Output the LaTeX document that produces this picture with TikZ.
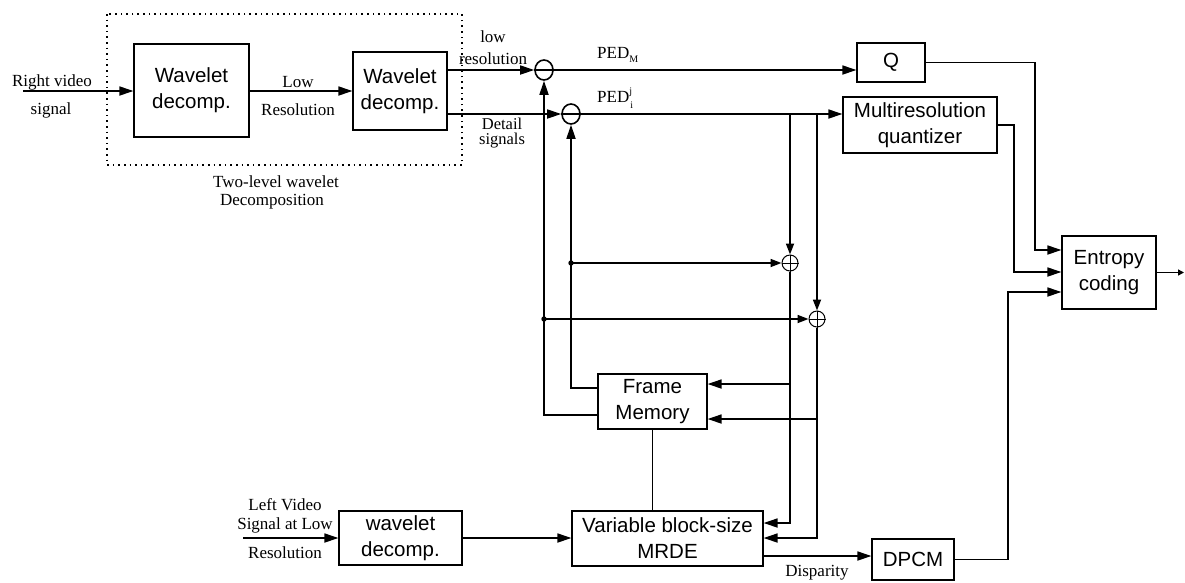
\documentclass[tikz,border=0pt]{standalone}
\usepackage{fontspec}
\setmainfont{Liberation Serif}
\setsansfont{Liberation Sans}
\usetikzlibrary{arrows.meta,shapes.geometric,calc}
\begin{document}
\begin{tikzpicture}[x=1pt,y=-1pt,
  box/.style={draw,line width=1.2pt,inner sep=0pt,align=center,
    font=\sffamily\fontsize{20.5}{26}\selectfont},
  lbl/.style={inner sep=0pt,align=center,font=\fontsize{17}{20}\selectfont},
  conn/.style={line width=1.7pt},
  arr/.style={conn,-{Triangle[length=14pt,width=9pt]}},
  sarr/.style={conn,-{Triangle[length=11pt,width=8pt]}},
  difc/.style={ellipse,draw,line width=1.6pt,inner sep=0pt,minimum width=18pt,minimum height=20pt},
  sumc/.style={circle,draw,line width=1pt,inner sep=0pt,minimum size=16pt},
  dotbox/.style={line width=1.9pt,dash pattern=on 1.6pt off 4pt}]
\useasboundingbox (0,0) rectangle (1185,582);

% boxes
\node[box,minimum width=115pt,minimum height=93pt] (wd1) at (191.5,90.5) {Wavelet\\decomp.};
\node[box,minimum width=94pt,minimum height=78pt] (wd2) at (400,91) {Wavelet\\decomp.};
\node[box,minimum width=68pt,minimum height=39pt] (Q) at (891,62.5) {Q};
\node[box,minimum width=154pt,minimum height=56pt] (mq) at (920,125) {Multiresolution\\quantizer};
\node[box,minimum width=94pt,minimum height=73pt] (ent) at (1109,272.5) {Entropy\\coding};
\node[box,minimum width=109pt,minimum height=55pt] (fm) at (652.5,401.5) {Frame\\Memory};
\node[box,minimum width=191pt,minimum height=55pt] (vbs) at (667.5,538.5) {Variable block-size\\MRDE};
\node[box,minimum width=123pt,minimum height=54pt] (wd3) at (400.5,538) {wavelet\\decomp.};
\node[box,minimum width=82pt,minimum height=41pt] (dpcm) at (913,559.5) {DPCM};

% dotted enclosure
\draw[dotbox] (107,14) rectangle (462,165);

% difference and sum nodes
\node[difc] (c1) at (544,70) {};
\node[difc] (c2) at (571,114) {};
\node[sumc] (p1) at (790,263) {};
\node[sumc] (p2) at (817,319) {};
\foreach \p in {p1,p2}{\draw[line width=1pt] (\p.north) -- (\p.south) (\p.west) -- (\p.east);}

% level coordinates
\coordinate (rin) at (23,91);
\coordinate (lin) at (243,538);
\coordinate (yfa) at (0,384);
\coordinate (yfb) at (0,419);
\coordinate (yla) at (0,388);
\coordinate (ylb) at (0,415);
\coordinate (yva) at (0,523);
\coordinate (yvb) at (0,538);
\coordinate (yd) at (0,556);
\coordinate (ye1) at (0,250);
\coordinate (ye2) at (0,272);
\coordinate (ye3) at (0,292);
\coordinate (xq) at (1035,0);
\coordinate (xm) at (1014,0);
\coordinate (xd) at (1008,0);
\coordinate (oend) at (1184,272.5);
\coordinate (d1) at (c2 |- p1);
\coordinate (d2) at (c1 |- p2);

% connectors
\draw[arr] (rin) -- (wd1.west |- rin);
\draw[arr] (wd1.east |- rin) -- (wd2.west |- rin);
\draw[arr] (wd2.east |- c1) -- (c1.west);
\draw[arr] (wd2.east |- c2) -- (c2.west);
\draw[arr] (c1.west) -- (Q.west |- c1);
\draw[arr] (c2.west) -- (mq.west |- c2);
\draw[sarr] (p1 |- c2) -- (p1.north);
\draw[sarr] (p2 |- c2) -- (p2.north);
\draw[sarr] (d1) -- (p1.west);
\draw[sarr] (d2) -- (p2.west);
\fill (d1) circle (2.7pt);
\fill (d2) circle (2.7pt);
\draw[arr] (p1.south) |- (vbs.east |- yva);
\draw[arr] (p2.south) |- (vbs.east |- yvb);
\draw[arr] (p1 |- yfa) -- (fm.east |- yfa);
\draw[arr] (p2 |- yfb) -- (fm.east |- yfb);
\draw[arr] (fm.west |- yla) -| (c2.south);
\draw[arr] (fm.west |- ylb) -| (c1.south);
\draw[conn] (fm.south) -- (vbs.north -| fm.south);
\draw[arr] (lin) -- (wd3.west |- lin);
\draw[arr] (wd3.east |- lin) -- (vbs.west |- lin);
\draw[arr] (vbs.east |- yd) -- (dpcm.west |- yd);
\draw[arr] (Q.east) -| (xq |- ye1) -- (ent.west |- ye1);
\draw[arr] (mq.east) -| (xm |- ye2) -- (ent.west |- ye2);
\draw[arr] (dpcm.east) -| (xd |- ye3) -- (ent.west |- ye3);
\draw[conn,-{Triangle[length=6pt,width=6pt]}] (ent.east) -- (oend);

% labels
\node[lbl] (l1) at (52,82) {Right video};
\node[lbl] (l2) at (51,110) {signal};
\node[lbl] (l3) at (298,82) {Low};
\node[lbl] (l4) at (298,110) {Resolution};
\node[lbl,font=\fontsize{17}{22}\selectfont] (l5) at (493,48) {low\\resolution};
\node[lbl,font=\fontsize{16.5}{15}\selectfont] (l7) at (502,133) {Detail\\signals};
\node[lbl] (l9) at (276,182) {Two-level wavelet};
\node[lbl] (l10) at (272,202) {Decomposition};
\node[lbl,anchor=west] (l11) at (597,55) {PED\raisebox{-0.5ex}{\fontsize{10}{10}\selectfont M}};
\node[lbl,anchor=west] (l12) at (597,98) {PED\rlap{\raisebox{1.1ex}{\fontsize{10}{10}\selectfont j}}\raisebox{-0.7ex}{\fontsize{10}{10}\selectfont\kern1pt i}};
\node[lbl] (l13) at (285,505) {Left Video};
\node[lbl] (l14) at (285,525) {Signal at Low};
\node[lbl] (l15) at (285,553) {Resolution};
\node[lbl] (l16) at (817,573) {Disparity};
\end{tikzpicture}
\end{document}
